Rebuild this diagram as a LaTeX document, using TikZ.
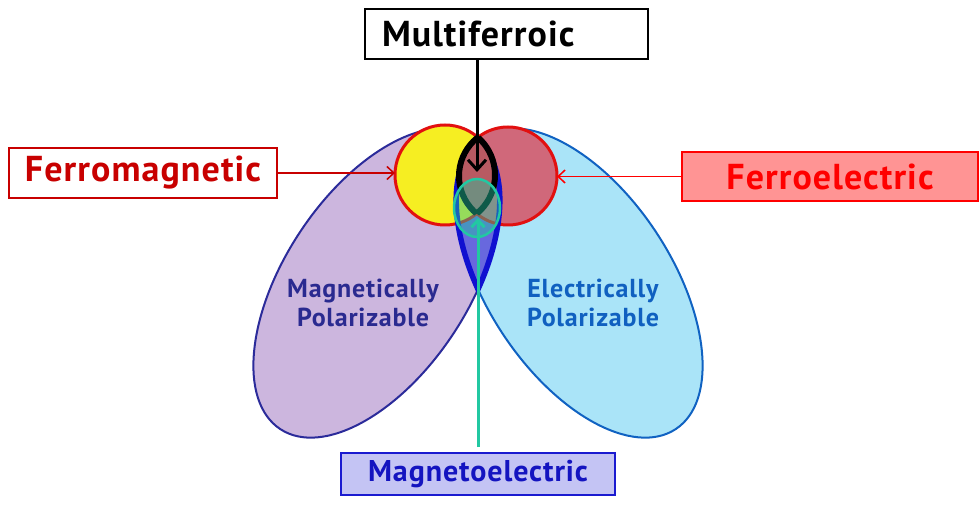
\documentclass[tikz,border=0pt]{standalone}
\usepackage{fontspec}
\setmainfont{PT Sans}[LetterSpace=3]
\usetikzlibrary{arrows.meta, positioning}
\definecolor{magfill}{HTML}{CCB6DE}
\definecolor{magline}{HTML}{2B2B9A}
\definecolor{elecfill}{HTML}{AAE4F8}
\definecolor{elecline}{HTML}{1062C2}
\definecolor{lensblue}{HTML}{6868DE}
\definecolor{lensline}{HTML}{1010D0}
\definecolor{yellowdisc}{HTML}{F6EE22}
\definecolor{rosedisc}{HTML}{D0687A}
\definecolor{rosedark}{HTML}{B85A62}
\definecolor{discline}{HTML}{E21010}
\definecolor{mfteal}{HTML}{22C8A2}
\definecolor{fmred}{HTML}{C80000}
\definecolor{fepink}{HTML}{FF9494}
\definecolor{fered}{HTML}{FF0000}
\definecolor{mefill}{HTML}{C4C4F4}
\definecolor{meline}{HTML}{1A1AD0}
\definecolor{metext}{HTML}{1414C0}
\definecolor{magtext}{HTML}{2A2A90}
\definecolor{electext}{HTML}{1060C0}
\tikzset{
    x=1pt, y=1pt, % one unit is one pixel of the reference
    tagbox/.style={draw, line width=2pt, inner sep=0pt, minimum height=50pt, font=\fontsize{36}{40}\selectfont\bfseries}, % label boxes
    lobe text/.style={align=center, font=\fontsize{26}{29}\selectfont\bfseries}, % text inside the ellipses
    pointer/.style={-{Straight Barb[length=7pt,width=13pt]}}
}
\newcommand\maglobe{(magc) ellipse [x radius=175, y radius=92, rotate=56.6]}
\newcommand\eleclobe{(elecc) ellipse [x radius=175, y radius=92, rotate=-56.6]}
\newcommand\ymdisc{(ymc) circle [radius=50]}
\newcommand\fedisc{(fec) circle [radius=49]}

\begin{document}
\begin{tikzpicture}
		\useasboundingbox (0,0) rectangle (980,509);
		% Centres
		\coordinate (magc) at (376.6,226);
		\coordinate (elecc) at (579.4,226);
		\coordinate (ymc) at (445,334);
		\coordinate (fec) at (508,333);
		\coordinate (mec) at (477,301);
		
		% Ellipses
		\filldraw[fill=magfill, draw=magline, line width=2pt] \maglobe;
		\filldraw[fill=elecfill, draw=elecline, line width=2pt] \eleclobe;
		\begin{scope}
			\clip \maglobe;
			\fill[lensblue] \eleclobe;
		\end{scope}
		\node[lobe text, text=magtext] (maglbl) at (363,206) {Magnetically\\Polarizable};
		\node[lobe text, text=electext] (eleclbl) at (593,206) {Electrically\\Polarizable};
		
		% Discs
		\filldraw[fill=yellowdisc, draw=discline, line width=3pt] \ymdisc;
		\filldraw[fill=rosedisc, draw=discline, line width=3pt] \fedisc;
		\begin{scope}
			\clip \maglobe;
			\draw[lensline, line width=5.5pt] \eleclobe;
		\end{scope}
		\begin{scope}
			\clip \eleclobe;
			\draw[lensline, line width=5.5pt] \maglobe;
		\end{scope}
		\begin{scope}
			\clip \ymdisc;
			\fill[rosedark] \fedisc;
			\draw[black, line width=6pt] \fedisc;
		\end{scope}
		\begin{scope}
			\clip \fedisc;
			\draw[black, line width=6pt] \ymdisc;
		\end{scope}
		\filldraw[fill=mfteal, fill opacity=0.45, draw=mfteal, line width=2.5pt] (mec) ellipse [x radius=23, y radius=29];
		
		% Boxes
		\node[tagbox, fill=white, text width=249pt, align=left, inner xsep=17pt] (MF) at (506.5,475) {Multiferroic};
		\node[tagbox, fill=white, draw=fmred, text=fmred, minimum width=268pt] (FM) at (143,336) {Ferromagnetic};
		\node[tagbox, fill=fepink, draw=fered, text=fered, minimum width=296pt, minimum height=49pt] (FE) at (830,332.5) {Ferroelectric};
		\node[tagbox, fill=mefill, draw=meline, text=metext, minimum width=274pt, minimum height=42pt, font=\fontsize{30}{32}\selectfont\bfseries] (ME) at (478,35) {Magnetoelectric};
		
		% Arrows
		\coordinate (mftip) at (477,337);
		\coordinate (metip) at (478,291);
		\coordinate (fmtip) at (395,336);
		\coordinate (fetip) at (557,332.5);
		\draw[pointer, line width=3pt, -{Straight Barb[length=10pt,width=18pt]}] (MF.south -| mftip) -- (mftip);
		\draw[pointer, mfteal, line width=3pt, shorten <=5pt] (ME.north) -- (metip);
		\draw[pointer, fmred, line width=1.5pt] (FM.east) -- (fmtip);
		\draw[pointer, fered, line width=1.5pt] (FE.west) -- (fetip);
	\end{tikzpicture}
\end{document}
